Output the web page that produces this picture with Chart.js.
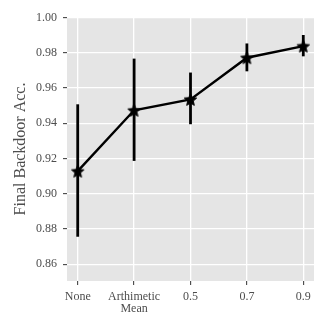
<!DOCTYPE html>
<html>
<head>
<meta charset="utf-8">
<script src="https://cdn.jsdelivr.net/npm/chart.js@4/dist/chart.umd.min.js"></script>
<style>
html,body{margin:0;padding:0;background:#fff;}
#wrap{width:332px;height:332px;}
</style>
</head>
<body>
<div id="wrap"><canvas id="c" width="332" height="332"></canvas></div>
<script>
// ---- data ----
const categories = ['None', ['Arthimetic', 'Mean'], '0.5', '0.7', '0.9'];
const accMean  = [0.9128, 0.9473, 0.9535, 0.9771, 0.9837];
const accLower = [0.8756, 0.9186, 0.9394, 0.9694, 0.9779];
const accUpper = [0.9507, 0.9766, 0.9687, 0.9852, 0.9900];
const yTicks = [0.86, 0.88, 0.90, 0.92, 0.94, 0.96, 0.98, 1.00];

// filled five-point star marker
function makeStar(r) {
  const s = Math.ceil(r * 2 + 2);
  const cv = document.createElement('canvas');
  cv.width = s; cv.height = s;
  const g = cv.getContext('2d');
  const cx = s / 2, cy = s / 2 + r * 0.1;
  g.beginPath();
  for (let i = 0; i < 10; i++) {
    const rad = i % 2 === 0 ? r : r * 0.45;
    const a = -Math.PI / 2 + i * Math.PI / 5;
    const px = cx + rad * Math.cos(a), py = cy + rad * Math.sin(a);
    if (i === 0) g.moveTo(px, py); else g.lineTo(px, py);
  }
  g.closePath();
  g.fillStyle = '#000';
  g.fill();
  g.lineWidth = 1;
  g.strokeStyle = '#000';
  g.stroke();
  return cv;
}
const star = makeStar(6.5);

const panelBg = {
  id: 'panelBg',
  beforeDraw(chart) {
    const {ctx, chartArea: a} = chart;
    ctx.save();
    ctx.fillStyle = '#e5e5e5';
    ctx.fillRect(a.left, a.top, a.right - a.left, a.bottom - a.top);
    ctx.restore();
  }
};

const errorBars = {
  id: 'errorBars',
  beforeDatasetsDraw(chart) {
    const {ctx, scales: {x, y}} = chart;
    ctx.save();
    ctx.strokeStyle = '#000';
    ctx.lineWidth = 2.8;
    for (let i = 0; i < accMean.length; i++) {
      const px = x.getPixelForValue(i);
      ctx.beginPath();
      ctx.moveTo(px, y.getPixelForValue(accLower[i]));
      ctx.lineTo(px, y.getPixelForValue(accUpper[i]));
      ctx.stroke();
    }
    ctx.restore();
  }
};

const tickFont = {family: '"Liberation Serif", serif', size: 12};

new Chart(document.getElementById('c'), {
  type: 'line',
  data: {
    datasets: [{
      data: accMean.map((v, i) => ({x: i, y: v})),
      borderColor: '#000',
      borderWidth: 2.4,
      pointStyle: star,
      pointRadius: 6,
      pointHoverRadius: 6,
      tension: 0,
      fill: false
    }]
  },
  options: {
    responsive: false,
    animation: false,
    events: [],
    layout: {padding: {top: 17, right: 18, left: 0, bottom: 0}},
    plugins: {legend: {display: false}, tooltip: {enabled: false}},
    scales: {
      x: {
        type: 'linear',
        min: -0.19,
        max: 4.19,
        afterBuildTicks(s) { s.ticks = categories.map((c, i) => ({value: i})); },
        afterFit(s) { s.height = 51; },
        grid: {color: '#ffffff', lineWidth: 1.3, tickColor: '#333', tickLength: 4, tickWidth: 1},
        border: {display: false},
        ticks: {
          callback: (v) => categories[v],
          font: Object.assign({lineHeight: 0.98}, tickFont),
          color: '#4d4d4d',
          padding: 6,
          maxRotation: 0,
          autoSkip: false
        }
      },
      y: {
        min: 0.8505,
        max: 1.0002,
        afterBuildTicks(s) { s.ticks = yTicks.map(v => ({value: v})); },
        afterFit(s) { s.width = 67; },
        grid: {color: '#ffffff', lineWidth: 1.3, tickColor: '#333', tickLength: 4, tickWidth: 1},
        border: {display: false},
        ticks: {
          callback: (v) => v.toFixed(2),
          font: tickFont,
          color: '#4d4d4d',
          padding: 6
        },
        title: {
          display: true,
          text: 'Final Backdoor Acc.',
          font: {family: '"Liberation Serif", serif', size: 16},
          color: '#4d4d4d',
          padding: {top: 11, bottom: 0}
        }
      }
    }
  },
  plugins: [panelBg, errorBars]
});
</script>
</body>
</html>
